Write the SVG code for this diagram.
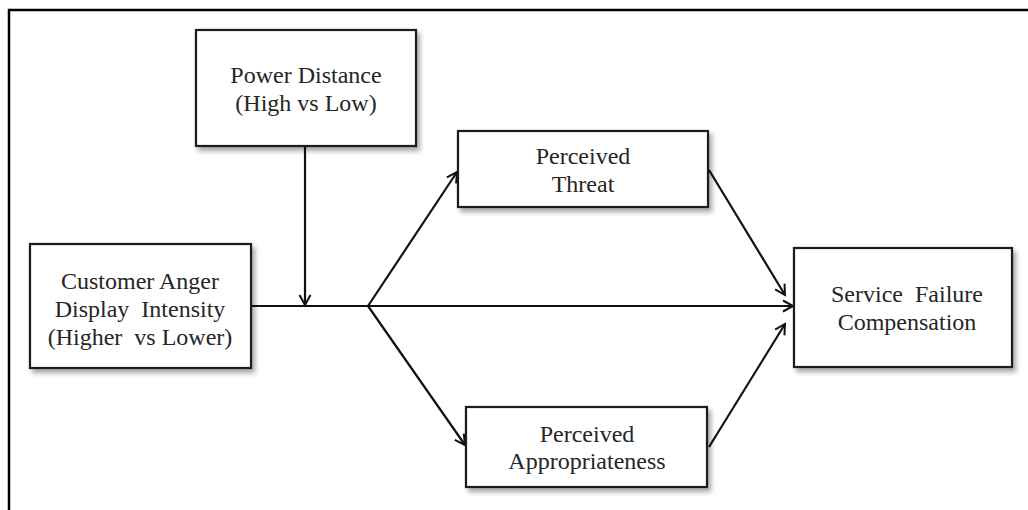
<svg xmlns="http://www.w3.org/2000/svg" width="1028" height="510" viewBox="0 0 1028 510">
<style>
.box{fill:#fff;stroke:#1a1a1a;stroke-width:2.2}
.lbl{font-family:"Liberation Serif","Times New Roman",serif;font-size:24px;fill:#262626;text-anchor:middle}
.con{fill:none;stroke:#111;stroke-width:2.2}
</style>
<defs>
<filter id="sh" x="-10%" y="-10%" width="130%" height="140%">
<feDropShadow dx="3" dy="4" stdDeviation="2.5" flood-color="#000" flood-opacity="0.35"/>
</filter>
<marker id="ar" markerWidth="14" markerHeight="14" refX="11" refY="7" orient="auto" markerUnits="userSpaceOnUse">
<path d="M1,1.5 L11,7 L1,12.5" fill="none" stroke="#111" stroke-width="2"/>
</marker>
</defs>
<rect width="1028" height="510" fill="#fff"/>
<path d="M9,510 V10 H1028" fill="none" stroke="#000" stroke-width="2.5"/>
<g id="connectors">
<line class="con" x1="305" y1="146" x2="305" y2="305" marker-end="url(#ar)"/>
<line class="con" x1="251" y1="306" x2="793" y2="306" marker-end="url(#ar)"/>
<line class="con" x1="368" y1="306" x2="457" y2="172" marker-end="url(#ar)"/>
<line class="con" x1="368" y1="306" x2="465" y2="445" marker-end="url(#ar)"/>
<line class="con" x1="709" y1="170" x2="785" y2="295" marker-end="url(#ar)"/>
<line class="con" x1="709" y1="447" x2="785" y2="324" marker-end="url(#ar)"/>
</g>
<g id="power-distance">
<rect class="box" x="196" y="30" width="220" height="116" filter="url(#sh)"/>
<text class="lbl" x="306" y="83">Power Distance</text>
<text class="lbl" x="306" y="111">(High vs Low)</text>
</g>
<g id="perceived-threat">
<rect class="box" x="458" y="131" width="250" height="76" filter="url(#sh)"/>
<text class="lbl" x="583" y="164">Perceived</text>
<text class="lbl" x="583" y="192">Threat</text>
</g>
<g id="customer-anger">
<rect class="box" x="30" y="244" width="221" height="124" filter="url(#sh)"/>
<text class="lbl" x="140" y="289">Customer Anger</text>
<text class="lbl" x="140" y="317" xml:space="preserve">Display  Intensity</text>
<text class="lbl" x="140" y="345" xml:space="preserve">(Higher  vs Lower)</text>
</g>
<g id="service-failure">
<rect class="box" x="794" y="248" width="218" height="119" filter="url(#sh)"/>
<text class="lbl" x="907" y="302" xml:space="preserve">Service  Failure</text>
<text class="lbl" x="907" y="330">Compensation</text>
</g>
<g id="perceived-appropriateness">
<rect class="box" x="466" y="407" width="241" height="80" filter="url(#sh)"/>
<text class="lbl" x="587" y="442">Perceived</text>
<text class="lbl" x="587" y="469">Appropriateness</text>
</g>
</svg>
